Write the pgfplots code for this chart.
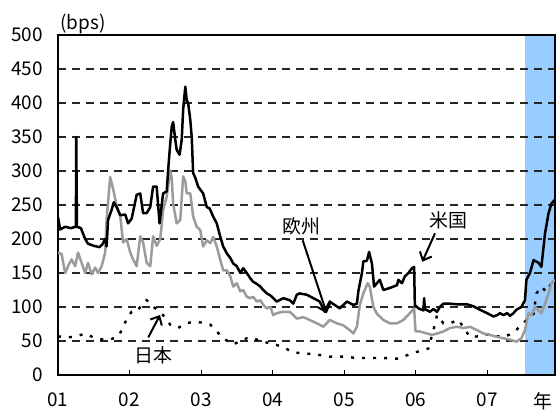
\documentclass[border=0pt]{standalone}
\usepackage{pgfplots}
\pgfplotsset{compat=1.18}
\usepackage{fontspec}
\setmainfont{Noto Sans CJK JP}
\usetikzlibrary{arrows.meta}
\definecolor{shade}{RGB}{153,204,255}
\definecolor{eugray}{RGB}{155,155,155}
\newcommand{\lbl}{\fontsize{19}{22}\selectfont}
\begin{document}
\begin{tikzpicture}
\begin{axis}[
  at={(0,0)}, anchor=south west,
  set layers,
  scale only axis,
  width=497bp, height=340bp,
  xmin=2001, xmax=2007.95,
  ymin=0, ymax=500,
  xtick={2001,...,2007},
  xticklabels={01,02,03,04,05,06,07},
  ytick={0,50,...,500},
  tick pos=left,
  xtick align=inside,
  major tick length=5bp,
  xtick style={black, line width=1bp},
  ytick style={draw=none},
  ymajorgrids,
  grid style={black!85, line width=1.2bp, dash pattern=on 8bp off 6bp},
  axis line style={line width=2bp},
  tick label style={font=\lbl},
  /pgf/number format/assume math mode=true,
  yticklabel style={anchor=east, inner sep=0pt, xshift=-15bp},
  xticklabel style={anchor=north, inner sep=0pt, yshift=-18bp},
]
% shaded period
\addplot[on layer=axis background, fill=shade, draw=none]
  coordinates {(2007.53,0) (2007.53,500) (2007.95,500) (2007.95,0)} -- cycle;

% 日本
\addplot[black, line width=2.4bp, dash pattern=on 3bp off 8bp] coordinates {
(2001.00,57)(2001.12,55)(2001.26,57)(2001.38,61)(2001.50,55)(2001.64,52)(2001.73,52)(2001.84,57)
(2001.91,69)(2001.96,83)(2002.03,93)(2002.10,93)(2002.17,103)(2002.24,110)(2002.31,103)(2002.38,96)
(2002.47,88)(2002.57,74)(2002.68,69)(2002.78,76)(2002.89,78)(2003.03,77)(2003.13,74)(2003.22,64)
(2003.31,54)(2003.45,45)(2003.55,50)(2003.64,54)(2003.73,55)(2003.83,49)(2003.97,47)(2004.15,41)
(2004.29,33)(2004.43,32)(2004.62,30)(2004.80,27)(2004.99,27)(2005.18,25)(2005.36,25)(2005.55,25)
(2005.74,24)(2005.88,29)(2006.02,34)(2006.18,39)(2006.27,74)(2006.30,88)(2006.39,76)(2006.48,76)
(2006.60,81)(2006.76,56)(2006.90,57)(2007.02,60)(2007.14,57)(2007.25,56)(2007.39,64)(2007.46,72)
(2007.65,90)(2007.69,120)(2007.76,130)(2007.83,122)(2007.90,135)(2007.95,138)
};

% gray series
\addplot[eugray, line width=2.5bp, line join=round] coordinates {
(2001.00,180)(2001.05,178)(2001.10,150)(2001.14,160)(2001.19,170)(2001.24,160)(2001.28,180)(2001.33,165)
(2001.38,150)(2001.42,165)(2001.47,148)(2001.52,158)(2001.56,150)(2001.61,160)(2001.66,180)(2001.68,229)
(2001.73,291)(2001.77,274)(2001.82,249)(2001.87,234)(2001.91,195)(2001.96,200)(2002.01,180)(2002.05,170)
(2002.10,160)(2002.15,204)(2002.19,195)(2002.24,165)(2002.29,160)(2002.33,204)(2002.38,190)(2002.43,200)
(2002.47,243)(2002.52,262)(2002.57,301)(2002.59,290)(2002.61,252)(2002.66,223)(2002.71,228)(2002.75,292)
(2002.78,285)(2002.80,267)(2002.85,267)(2002.89,233)(2002.94,218)(2002.99,213)(2003.03,189)(2003.08,198)
(2003.13,194)(2003.17,203)(2003.22,189)(2003.27,169)(2003.31,154)(2003.36,154)(2003.41,145)(2003.45,130)
(2003.50,135)(2003.55,123)(2003.59,125)(2003.64,115)(2003.69,113)(2003.73,115)(2003.78,108)(2003.83,110)
(2003.87,103)(2003.92,98)(2003.97,100)(2004.01,88)(2004.06,91)(2004.15,93)(2004.24,93)(2004.34,83)
(2004.43,85)(2004.52,81)(2004.62,76)(2004.71,71)(2004.80,81)(2004.90,76)(2004.99,73)(2005.08,66)
(2005.13,61)(2005.18,71)(2005.22,103)(2005.27,120)(2005.33,135)(2005.36,130)(2005.41,100)(2005.46,90)
(2005.55,81)(2005.64,76)(2005.74,76)(2005.83,81)(2005.92,91)(2005.98,98)(2006.00,64)(2006.06,64)
(2006.16,61)(2006.23,59)(2006.30,61)(2006.39,64)(2006.48,69)(2006.58,71)(2006.67,69)(2006.76,71)
(2006.86,66)(2006.95,61)(2007.04,59)(2007.14,56)(2007.23,54)(2007.32,52)(2007.41,49)(2007.48,54)
(2007.53,66)(2007.58,91)(2007.62,88)(2007.67,100)(2007.72,95)(2007.76,91)(2007.81,105)(2007.86,120)
(2007.90,135)(2007.95,140)
};

% black series
\addplot[black, line width=2.5bp, line join=round] coordinates {
(2001.00,232)(2001.03,214)(2001.10,218)(2001.18,216)(2001.25,218)(2001.255,350)(2001.265,218)(2001.32,216)
(2001.38,200)(2001.42,193)(2001.50,190)(2001.58,188)(2001.62,192)(2001.66,200)(2001.68,189)(2001.70,228)
(2001.75,243)(2001.78,254)(2001.82,247)(2001.87,235)(2001.94,236)(2001.98,223)(2002.03,230)(2002.10,265)
(2002.15,267)(2002.19,238)(2002.24,238)(2002.29,247)(2002.33,277)(2002.38,277)(2002.42,223)(2002.47,267)
(2002.52,270)(2002.54,301)(2002.57,341)(2002.59,365)(2002.61,372)(2002.64,346)(2002.66,331)(2002.70,324)
(2002.73,346)(2002.75,390)(2002.78,424)(2002.80,404)(2002.82,400)(2002.85,375)(2002.87,350)(2002.89,297)
(2002.92,290)(2002.96,277)(2003.03,267)(2003.08,247)(2003.12,245)(2003.17,233)(2003.22,223)(2003.27,203)
(2003.31,189)(2003.36,179)(2003.41,172)(2003.45,164)(2003.50,160)(2003.55,150)(2003.59,157)(2003.64,150)
(2003.69,142)(2003.73,137)(2003.78,134)(2003.83,130)(2003.87,125)(2003.92,120)(2003.97,117)(2004.01,113)
(2004.06,108)(2004.15,113)(2004.24,110)(2004.29,105)(2004.34,118)(2004.38,120)(2004.48,118)(2004.57,113)
(2004.66,108)(2004.73,93)(2004.80,108)(2004.87,103)(2004.94,98)(2005.04,108)(2005.13,103)(2005.18,105)
(2005.20,123)(2005.25,150)(2005.27,167)(2005.32,168)(2005.35,181)(2005.39,164)(2005.42,130)(2005.46,135)
(2005.50,140)(2005.55,125)(2005.64,128)(2005.74,132)(2005.76,140)(2005.81,135)(2005.85,145)(2005.90,150)
(2005.95,157)(2005.98,159)(2005.99,103)(2006.04,98)(2006.11,95)(2006.12,113)(2006.13,97)(2006.20,93)
(2006.25,97)(2006.30,93)(2006.34,100)(2006.39,105)(2006.46,105)(2006.58,104)(2006.72,104)(2006.81,101)
(2006.90,96)(2007.00,91)(2007.09,86)(2007.14,88)(2007.18,91)(2007.23,88)(2007.28,91)(2007.32,87)
(2007.37,91)(2007.41,96)(2007.48,100)(2007.53,110)(2007.55,140)(2007.60,150)(2007.65,169)(2007.72,165)
(2007.76,159)(2007.81,208)(2007.86,238)(2007.90,252)(2007.95,258)
};
\end{axis}
% labels and arrows
\node[inner sep=0pt, font=\lbl] at (25bp,351.5bp) {(bps)};
\node[inner sep=0pt, font=\lbl] at (243bp,149bp) {欧州};
\node[inner sep=0pt, font=\lbl] at (390bp,155bp) {米国};
\node[inner sep=0pt, font=\lbl] at (95bp,20bp) {日本};
\node[inner sep=0pt, font=\lbl] at (485bp,-26bp) {年};
\begin{scope}[line width=2bp, -{Straight Barb[length=7bp,width=13bp]}]
\draw (244.7bp,134.7bp) -- (268.7bp,61.7bp);
\draw (377bp,141.7bp) -- (364.3bp,113.3bp);
\draw (90.3bp,37.7bp) -- (102bp,60bp);
\end{scope}
\pgfresetboundingbox
\useasboundingbox (-58bp,-37bp) rectangle (499bp,375bp);
\end{tikzpicture}
\end{document}
